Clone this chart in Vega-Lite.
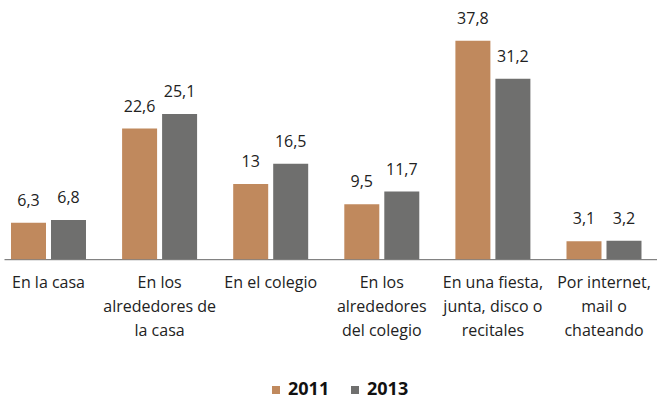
{
  "$schema": "https://vega.github.io/schema/vega-lite/v6.json",
  "autosize": "none",
  "width": 653,
  "height": 231.2,
  "padding": {"left": 4, "top": 28, "right": 0, "bottom": 143.8},
  "background": "white",
  "config": {
    "view": {"stroke": null},
    "font": "Open Sans",
    "locale": {"number": {"decimal": ",", "thousands": ".", "grouping": [3], "currency": ["$", ""]}}
  },
  "data": {
    "values": [
      {"cat": "En la casa", "year": "2011", "value": 6.3},
      {"cat": "En la casa", "year": "2013", "value": 6.8},
      {"cat": "En los|alrededores de|la casa", "year": "2011", "value": 22.6},
      {"cat": "En los|alrededores de|la casa", "year": "2013", "value": 25.1},
      {"cat": "En el colegio", "year": "2011", "value": 13},
      {"cat": "En el colegio", "year": "2013", "value": 16.5},
      {"cat": "En los|alrededores|del colegio", "year": "2011", "value": 9.5},
      {"cat": "En los|alrededores|del colegio", "year": "2013", "value": 11.7},
      {"cat": "En una fiesta,|junta, disco o|recitales", "year": "2011", "value": 37.8},
      {"cat": "En una fiesta,|junta, disco o|recitales", "year": "2013", "value": 31.2},
      {"cat": "Por internet,|mail o|chateando", "year": "2011", "value": 3.1},
      {"cat": "Por internet,|mail o|chateando", "year": "2013", "value": 3.2}
    ]
  },
  "encoding": {
    "x": {
      "field": "cat", "type": "nominal", "sort": null,
      "scale": {"paddingInner": 0.325, "paddingOuter": 0.1013, "align": 0.311},
      "axis": {
        "title": null, "labelAngle": 0, "ticks": false,
        "domainColor": "#666666", "domainWidth": 1,
        "labelExpr": "split(datum.label, '|')",
        "labelFontSize": 16, "labelColor": "#222222", "labelLineHeight": 24,
        "labelPadding": 15, "labelLimit": 200
      }
    },
    "xOffset": {"field": "year", "type": "nominal", "scale": {"paddingInner": 0.125, "paddingOuter": 0}},
    "y": {"field": "value", "type": "quantitative", "scale": {"domain": [0, 40], "nice": false}, "axis": null}
  },
  "layer": [
    {
      "mark": {"type": "bar"},
      "encoding": {
        "color": {
          "field": "year", "type": "nominal",
          "scale": {"domain": ["2011", "2013"], "range": ["#C0895D", "#6F6F6E"]},
          "legend": {
            "title": null, "orient": "none", "direction": "horizontal",
            "legendX": 263, "legendY": 353, "padding": 0,
            "symbolType": "square", "symbolSize": 64, "symbolStrokeWidth": 0,
            "labelFontSize": 18, "labelFontWeight": "bold", "labelColor": "#111111",
            "labelOffset": 3, "columnPadding": 16
          }
        }
      }
    },
    {
      "mark": {"type": "text", "baseline": "alphabetic", "dy": -17, "fontSize": 16, "color": "#222222"},
      "encoding": {
        "text": {"field": "value", "type": "quantitative", "format": ".1~f"}
      }
    }
  ]
}
